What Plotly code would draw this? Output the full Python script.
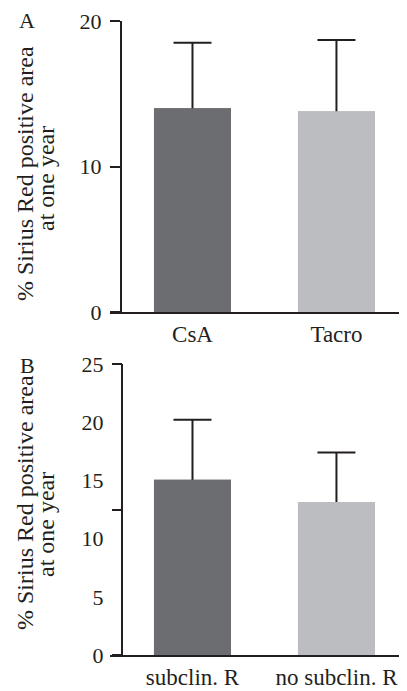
import plotly.graph_objects as go

# page offset (browser body margin) compensation
OFF = 8
PW, PH = 407, 691
W, H = PW - OFF, PH - OFF

# Data
cats_a = ["CsA", "Tacro"]
means_a = [14.0, 13.8]
sd_a = [4.5, 4.9]

cats_b = ["subclin. R", "no subclin. R"]
means_b = [15.05, 13.15]
sd_b = [5.15, 4.25]

ticks_a = [0, 10, 20]
ticks_b = [0, 5, 10, 15, 20, 25]
marks_b = [0, 12.5, 25]

colors = ["#6c6d71", "#bcbdc1"]
ink = "#231f20"
FONT = "Liberation Serif, Times New Roman, serif"


def X(px):
    return (px - OFF) / W


def Y(py):
    return (PH - py) / H


fig = go.Figure()


def add_panel(cats, means, sd, xa, ya):
    # bar carrying the (symmetric) SD error bar
    fig.add_trace(go.Bar(
        x=cats, y=means, width=0.535, marker=dict(color=colors, line=dict(width=0)),
        error_y=dict(type="data", symmetric=True, array=sd,
                     color=ink, thickness=2, width=19),
        xaxis=xa, yaxis=ya, showlegend=False))
    # same bar drawn on top, hiding the lower half of the error bar
    fig.add_trace(go.Bar(
        x=cats, y=means, width=0.535, marker=dict(color=colors, line=dict(width=0)),
        xaxis=xa, yaxis=ya, showlegend=False))


add_panel(cats_a, means_a, sd_a, "x", "y")
add_panel(cats_b, means_b, sd_b, "x2", "y2")

# invisible trace to activate y3 (tick marks only)
fig.add_trace(go.Scatter(x=[cats_b[0]], y=[0], mode="markers", marker=dict(opacity=0),
                         xaxis="x2", yaxis="y3", showlegend=False, hoverinfo="skip"))

xr = [-0.573, 1.49]
common_x = dict(showline=True, linecolor=ink, linewidth=2, ticks="", showgrid=False,
                zeroline=False, tickfont=dict(family=FONT, size=23, color=ink),
                range=xr, fixedrange=True, automargin=False)

fig.update_layout(
    width=W, height=H, margin=dict(l=0, r=0, t=0, b=0, autoexpand=False),
    paper_bgcolor="white", plot_bgcolor="white", barmode="overlay",
    font=dict(family=FONT, color=ink),
    xaxis=dict(domain=[X(110), 1], anchor="y", **common_x),
    xaxis2=dict(domain=[X(110), 1], anchor="y2", **common_x),
    yaxis=dict(domain=[Y(312), Y(21)], anchor="free", position=X(121), range=[0, 20],
               tickvals=ticks_a, ticks="outside", ticklen=10, tickwidth=2, tickcolor=ink,
               showline=True, linecolor=ink, linewidth=2, showgrid=False, zeroline=False,
               tickfont=dict(family=FONT, size=22, color=ink), ticklabelstandoff=4,
               automargin=False),
    yaxis2=dict(domain=[Y(655), Y(364)], anchor="free", position=X(122), range=[0, 25],
                tickvals=ticks_b, ticks="outside", ticklen=10, tickwidth=2,
                tickcolor="rgba(0,0,0,0)",
                showline=True, linecolor=ink, linewidth=2, showgrid=False, zeroline=False,
                tickfont=dict(family=FONT, size=22, color=ink), ticklabelstandoff=3,
                automargin=False),
    yaxis3=dict(domain=[Y(655), Y(364)], anchor="free", position=X(122), range=[0, 25],
                overlaying="y2", tickvals=marks_b, ticks="outside", ticklen=10, tickwidth=2,
                tickcolor=ink, showticklabels=False, showline=False, showgrid=False,
                zeroline=False, automargin=False),
)

title1 = "% Sirius Red positive area"
title2 = "at one year"
ann = []
for letter, ly, c1, c2 in [("A", 20.5, 174, 179), ("B", 365, 503, 525)]:
    ann.append(dict(text=letter, x=X(27), y=Y(ly), xref="paper", yref="paper",
                    xanchor="center", yanchor="middle", showarrow=False,
                    font=dict(family=FONT, size=22, color=ink)))
    ann.append(dict(text=title1, x=X(25), y=Y(c1), xref="paper", yref="paper",
                    xanchor="center", yanchor="middle", showarrow=False, textangle=-90,
                    font=dict(family=FONT, size=24, color=ink)))
    ann.append(dict(text=title2, x=X(46), y=Y(c2), xref="paper", yref="paper",
                    xanchor="center", yanchor="middle", showarrow=False, textangle=-90,
                    font=dict(family=FONT, size=24, color=ink)))
fig.update_layout(annotations=ann)

fig.write_html("out.html")
